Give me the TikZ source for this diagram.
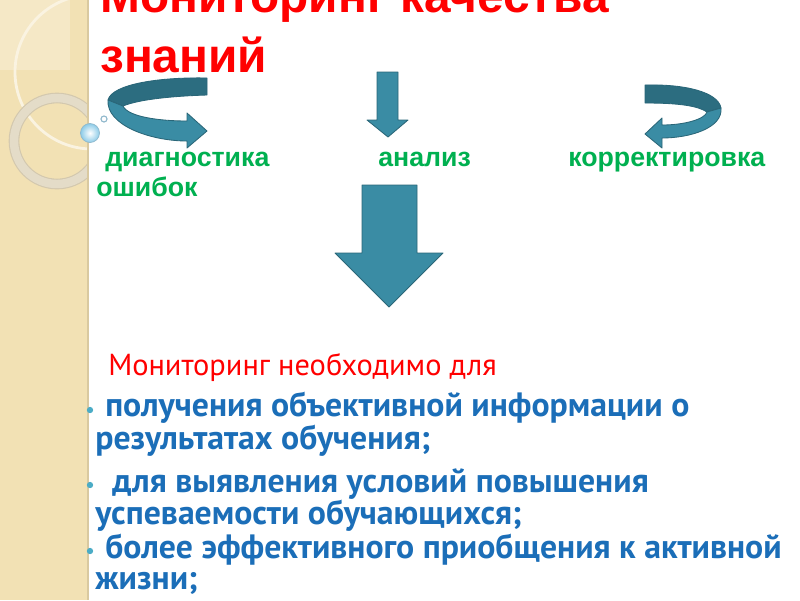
\documentclass[tikz,border=0pt]{standalone}
\usepackage{fontspec}
\setmainfont{PT Sans}
\newfontfamily\arialfont{Liberation Sans}
\definecolor{ttlred}{HTML}{FF0000}
\definecolor{lblgreen}{HTML}{00B050}
\definecolor{txtblue}{HTML}{1B6EB8}
\definecolor{dotteal}{HTML}{4BACC6}
\definecolor{arrfill}{HTML}{3A8CA4}
\definecolor{arrdark}{HTML}{2C6D80}
\definecolor{arredge}{HTML}{2A6678}
\definecolor{strip}{HTML}{F2E1B4}
\definecolor{stripsq}{HTML}{F5E8C6}
\definecolor{stripedge}{HTML}{D9C9A0}
\definecolor{ringgrey}{HTML}{E4DCC8}
\definecolor{ringedge}{HTML}{D3C8AE}
\definecolor{bubble}{HTML}{8CCBE8}
\definecolor{bubbleedge}{HTML}{8FB8CC}

\begin{document}
\begin{tikzpicture}[x=0.025cm,y=-0.025cm,
 ttl/.style={anchor=base west,inner sep=0pt,text=ttlred,font=\arialfont\bfseries\fontsize{34}{40}\selectfont},
 lbl/.style={anchor=base west,inner sep=0pt,text=lblgreen,font=\arialfont\bfseries\fontsize{19}{23}\selectfont},
 txt/.style={anchor=north west,inner sep=0pt,align=left,text=txtblue,font=\bfseries\fontsize{24}{21.5}\selectfont},
 dot/.style={circle,fill=dotteal,inner sep=0pt,minimum size=4.5pt},
 arr/.style={fill=arrfill,draw=arredge,line width=0.6pt,line join=round},
 arrback/.style={fill=arrdark,draw=arredge,line width=0.6pt,line join=round}]
\clip (0,0) rectangle (800,600);
\fill[white] (0,0) rectangle (800,600);
% left strip
\fill[strip] (0,0) rectangle (88,600);
\begin{scope}
\clip (0,0) rectangle (88,600);
\fill[stripsq] (0,0) rectangle (70,70);
\draw[white!60!strip,line width=2pt] (92,72) circle (77);
\draw[ringedge,line width=7.6pt] (57,141) circle (43);
\draw[ringgrey,line width=6pt] (57,141) circle (43);
\end{scope}
\draw[stripedge,line width=1pt] (88,0) -- (88,600);
\shade[inner color=white,outer color=bubble] (90,133) circle (9.5);
\draw[bubbleedge,line width=0.5pt] (90,133) circle (9.5);
\draw[bubbleedge,fill=white,line width=0.8pt] (104,119) circle (3);

\node[ttl] (t1) at (100,12) {Мониторинг качества};
\node[ttl] (t2) at (100,72) {знаний};

% curved arrows
\filldraw[arrback] (207,78) .. controls (160,77) and (112,84) .. (108,100) -- (123,106) .. controls (140,99) and (175,96) .. (207,95) -- cycle;
\filldraw[arr] (108,100) .. controls (106,125) and (150,141) .. (187,141) -- (187,148) -- (207,131) -- (187,113) -- (187,121) .. controls (160,121) and (128,117) .. (123,106) -- cycle;
\filldraw[arrback] (645,85) .. controls (685,84) and (718,92) .. (721,108) -- (707,112) .. controls (698,106) and (680,103) .. (645,103) -- cycle;
\filldraw[arr] (721,108) .. controls (723,128) and (690,138) .. (662,138) -- (662,148) -- (645,134) -- (662,118) -- (662,125) .. controls (685,125) and (705,119) .. (707,112) -- cycle;

% down arrows
\filldraw[arr] (377,72) -- (398,72) -- (398,120) -- (408,120) -- (388,137) -- (367,120) -- (377,120) -- cycle;
\filldraw[arr] (362,185) -- (417,185) -- (417,253) -- (443,253) -- (389,307) -- (335,253) -- (362,253) -- cycle;

\node[lbl] (diag) at (105,166) {диагностика};
\node[lbl] (anal) at (378,166) {анализ};
\node[lbl] (korr) at (568,166) {корректировка};
\node[lbl] (osh) at (96,196) {ошибок};

\node[anchor=base west,inner sep=0pt,text=ttlred,font=\fontsize{21.6}{26}\selectfont] (need) at (108,375) {Мониторинг необходимо для};

\node[dot] (d1) at (90,410) {};
\node[txt] (p1) at (95,392) {\hspace*{0.25cm}получения объективной информации о\\результатах обучения;};
\node[dot] (d2) at (90,485) {};
\node[txt] (p2) at (95,468) {\hspace*{0.425cm}для выявления условий повышения\\успеваемости обучающихся;};
\node[dot] (d3) at (90,551) {};
\node[txt] (p3) at (95,534) {\hspace*{0.25cm}более эффективного приобщения к активной\\жизни;};
\end{tikzpicture}
\end{document}
